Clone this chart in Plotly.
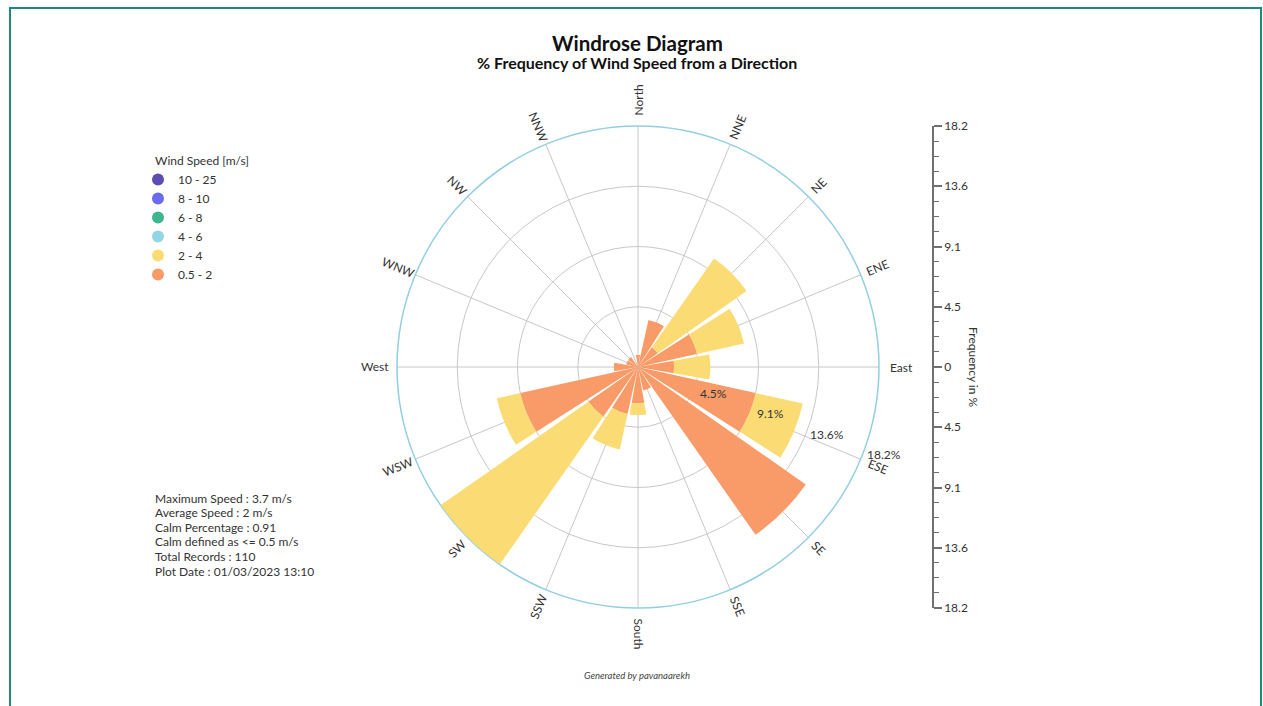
import math
import plotly.graph_objects as go

# ---- data -----------------------------------------------------------------
directions = ["North", "NNE", "NE", "ENE", "East", "ESE", "SE", "SSE",
              "South", "SSW", "SW", "WSW", "West", "WNW", "NW", "NNW"]
bearings = [0, 22.5, 45, 67.5, 90, 112.5, 135, 157.5,
            180, 202.5, 225, 247.5, 270, 292.5, 315, 337.5]

# % frequency per direction for each wind-speed class
freq_05_2 = [0.91, 3.64, 1.82, 4.55, 2.73, 9.09, 15.45, 1.82,
             2.73, 3.64, 4.55, 9.09, 1.82, 0.91, 0.91, 0.0]
freq_2_4 = [0.0, 0.0, 8.18, 3.64, 2.73, 3.64, 0.0, 0.0,
            0.91, 2.73, 13.64, 1.82, 0.0, 0.0, 0.0, 0.0]

speed_bins = ["10 - 25", "8 - 10", "6 - 8", "4 - 6", "2 - 4", "0.5 - 2"]
bin_colors = ["#5b4db4", "#6a6af2", "#3eb58b", "#92d6e6", "#fbdc74", "#f99b68"]

radial_ticks = [4.545, 9.09, 13.635, 18.18]
radial_tick_text = ["4.5%", "9.1%", "13.6%", "18.2%"]
r_max = 18.18

freq_axis_vals = [-18.18, -13.635, -9.09, -4.545, 0, 4.545, 9.09, 13.635, 18.18]
freq_axis_text = ["18.2", "13.6", "9.1", "4.5", "0", "4.5", "9.1", "13.6", "18.2"]

stats_lines = [
    "Maximum Speed : 3.7 m/s",
    "Average Speed : 2 m/s",
    "Calm Percentage : 0.91",
    "Calm defined as <= 0.5 m/s",
    "Total Records : 110",
    "Plot Date : 01/03/2023 13:10",
]

# ---- geometry (pixels) ----------------------------------------------------
W, H = 1263, 706
CX, CY, R = 638, 339, 241          # polar centre (from left / bottom) and radius
FONT = "Lato"
TXT = "#333333"


def to_paper(px, py):
    return px / W, py / H


fig = go.Figure()

# stacked wind-rose bars
fig.add_trace(go.Barpolar(r=freq_05_2, theta=bearings, width=20, name="0.5 - 2",
                          marker=dict(color=bin_colors[5], line=dict(width=0)),
                          showlegend=False, hoverinfo="skip"))
fig.add_trace(go.Barpolar(r=freq_2_4, theta=bearings, width=20, name="2 - 4",
                          marker=dict(color=bin_colors[4], line=dict(width=0)),
                          showlegend=False, hoverinfo="skip"))

# legend entries with round markers
for name, col in zip(speed_bins, bin_colors):
    fig.add_trace(go.Scatterpolar(r=[None], theta=[None], mode="markers", name=name,
                                  marker=dict(size=13, color=col), hoverinfo="skip"))

# helper trace so the vertical frequency scale is drawn
fig.add_trace(go.Scatter(x=[None], y=[None], xaxis="x", yaxis="y",
                         showlegend=False, hoverinfo="skip"))

annotations = []

# direction labels, written radially around the rose
for name, b in zip(directions, bearings):
    m = 90 - b
    if m <= -180:
        m += 360
    if m > 180:
        m -= 360
    rot = -m if -90 <= m <= 90 else 180 - m
    if rot > 180:
        rot -= 360
    a = math.radians(m)
    dist = R + 8 + 3.5 * len(name)
    x, y = to_paper(CX + dist * math.cos(a), CY + dist * math.sin(a))
    annotations.append(dict(text=name, x=x, y=y, xref="paper", yref="paper",
                            xanchor="center", yanchor="middle", textangle=rot,
                            showarrow=False, font=dict(family=FONT, size=12, color=TXT)))

# percentage labels along the ESE spoke
lab_ang = math.radians(-19.5)
for v, t in zip(radial_ticks, radial_tick_text):
    d = v / r_max * R + 20
    x, y = to_paper(CX + d * math.cos(lab_ang), CY + d * math.sin(lab_ang))
    annotations.append(dict(text=t, x=x, y=y, xref="paper", yref="paper",
                            xanchor="center", yanchor="middle", showarrow=False,
                            font=dict(family=FONT, size=12, color=TXT)))

# titles
annotations.append(dict(text="<b>Windrose Diagram</b>", x=637 / W, y=(H - 43) / H,
                        xref="paper", yref="paper", xanchor="center", yanchor="middle",
                        showarrow=False, font=dict(family=FONT, size=20.5, color="#111111")))
annotations.append(dict(text="<b>% Frequency of Wind Speed from a Direction</b>",
                        x=637 / W, y=(H - 63) / H, xref="paper", yref="paper",
                        xanchor="center", yanchor="middle", showarrow=False,
                        font=dict(family=FONT, size=16, color="#111111")))

# legend heading
annotations.append(dict(text="Wind Speed [m/s]", x=153 / W, y=(H - 160) / H,
                        xref="paper", yref="paper", xanchor="left", yanchor="middle",
                        showarrow=False, font=dict(family=FONT, size=12, color=TXT)))

# summary block, one line per row
for i, line in enumerate(stats_lines):
    annotations.append(dict(text=line, x=153 / W, y=(H - 498 - 14.6 * i) / H,
                            xref="paper", yref="paper", xanchor="left", yanchor="middle",
                            align="left", showarrow=False,
                            font=dict(family=FONT, size=12, color=TXT)))

# vertical scale caption
annotations.append(dict(text="Frequency in %", x=974 / W, y=CY / H, xref="paper",
                        yref="paper", xanchor="center", yanchor="middle", textangle=90,
                        showarrow=False, font=dict(family=FONT, size=12, color=TXT)))

# footer
annotations.append(dict(text="<i>Generated by pavanaarekh</i>", x=637 / W, y=(H - 675) / H,
                        xref="paper", yref="paper", xanchor="center", yanchor="middle",
                        showarrow=False, font=dict(family=FONT, size=9.5, color="#444444")))

minor_vals = []
for i in range(len(freq_axis_vals) - 1):
    lo, hi = freq_axis_vals[i], freq_axis_vals[i + 1]
    for k in (1, 2, 3):
        minor_vals.append(lo + (hi - lo) * k / 4)

dom_x = [(CX - R) / W, (CX + R) / W]
dom_y = [(CY - R) / H, (CY + R) / H]

fig.update_layout(
    width=W, height=H,
    margin=dict(l=0, r=0, t=0, b=0, autoexpand=False),
    paper_bgcolor="white", plot_bgcolor="white",
    font=dict(family=FONT, size=12, color=TXT),
    polar=dict(
        domain=dict(x=dom_x, y=dom_y),
        bgcolor="white",
        barmode="stack",
        radialaxis=dict(range=[0, r_max], tickvals=radial_ticks[:3], showticklabels=False,
                        ticks="", showline=False, gridcolor="#c8c8c8", gridwidth=1,
                        layer="below traces"),
        angularaxis=dict(rotation=90, direction="clockwise", tickvals=bearings,
                         showticklabels=False, ticks="", showline=True,
                         linecolor="#93cfe2", linewidth=1.5, gridcolor="#c8c8c8",
                         gridwidth=1, layer="below traces"),
    ),
    xaxis=dict(domain=[0.74, 0.741], visible=False, automargin=False),
    yaxis=dict(domain=dom_y, range=[-r_max, r_max], anchor="free", position=933 / W,
               side="right", showline=True, linecolor="#707070", linewidth=1.5,
               ticks="outside", ticklen=8, tickcolor="#707070", tickwidth=1.5,
               tickvals=freq_axis_vals, ticktext=freq_axis_text, showgrid=False,
               zeroline=False, automargin=False,
               tickfont=dict(family=FONT, size=12, color=TXT),
               minor=dict(tickvals=minor_vals, ticks="outside", ticklen=5,
                          tickcolor="#707070", tickwidth=1.2, showgrid=False)),
    legend=dict(x=138 / W, y=(H - 165) / H, xanchor="left", yanchor="top",
                bgcolor="rgba(0,0,0,0)", font=dict(family=FONT, size=12, color=TXT),
                itemsizing="constant"),
    annotations=annotations,
    shapes=[dict(type="rect", xref="paper", yref="paper", x0=10 / W, x1=1261 / W,
                 y0=-0.05, y1=(H - 8) / H, line=dict(color="#1d8a82", width=2),
                 fillcolor="rgba(0,0,0,0)", layer="above")],
)

fig.write_html("out.html")
